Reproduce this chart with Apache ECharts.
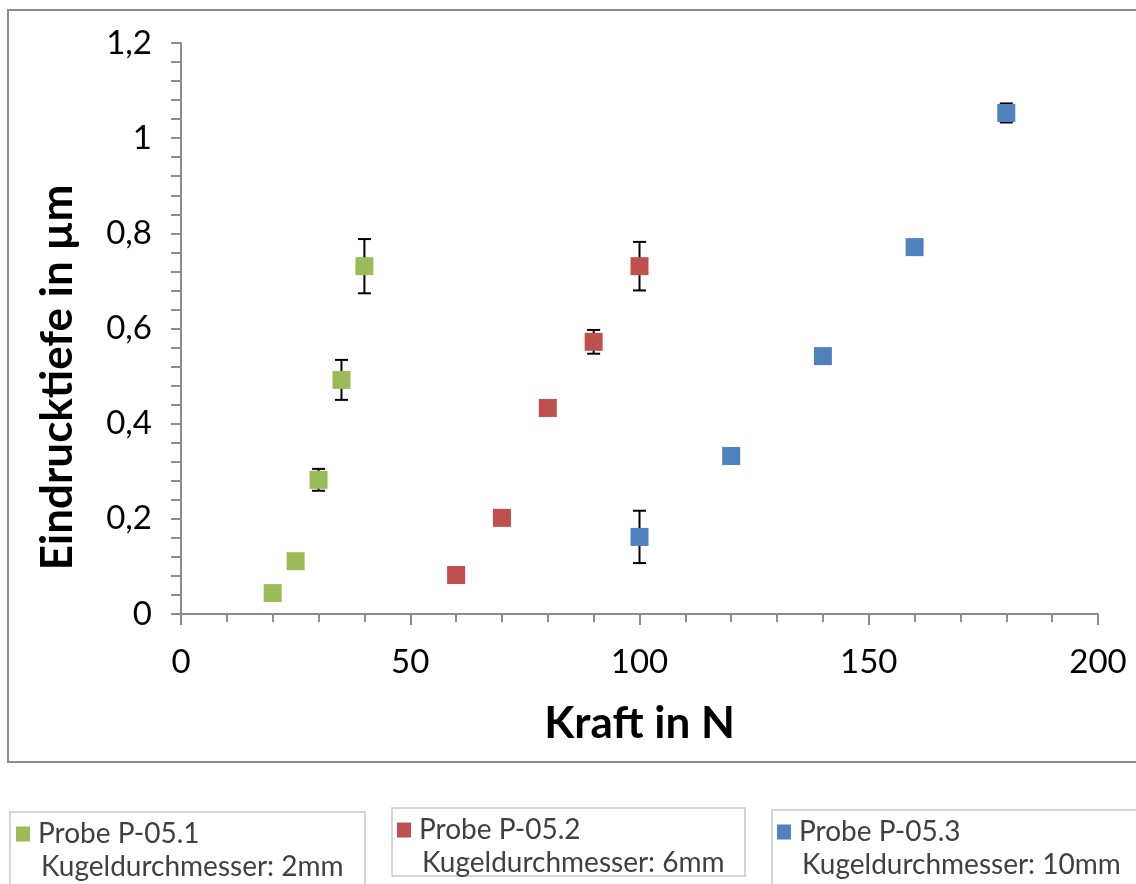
<!DOCTYPE html>
<html>
<head>
<meta charset="utf-8">
<script src="https://cdn.jsdelivr.net/npm/echarts@6/dist/echarts.min.js"></script>
<style>
  html, body { margin: 0; padding: 0; background: #fff; }
  #chart { width: 1136px; height: 884px; }
</style>
</head>
<body>
<div id="chart"></div>
<script>
// Probe P-05.1, Kugel 2mm
const kraft1 = [20, 25, 30, 35, 40]
const tiefe1 = [0.044, 0.111, 0.282, 0.492, 0.731]
const fehler1 = [0, 0, 0.023, 0.042, 0.057]
// Probe P-05.2, Kugel 6mm
const kraft2 = [60, 70, 80, 90, 100]
const tiefe2 = [0.082, 0.202, 0.433, 0.572, 0.731]
const fehler2 = [0, 0, 0, 0.025, 0.051]
// Probe P-05.3, Kugel 10mm
const kraft3 = [100, 120, 140, 160, 180]
const tiefe3 = [0.162, 0.332, 0.542, 0.771, 1.053]
const fehler3 = [0.055, 0, 0, 0, 0.02]

const names = ['Probe P-05.1', 'Probe P-05.2', 'Probe P-05.3']
const durchmesser = ['Kugeldurchmesser: 2mm', 'Kugeldurchmesser: 6mm', 'Kugeldurchmesser: 10mm']
const colors = ['#9BBB59', '#C0504D', '#4F81BD']
const fontName = 'Lato, "Open Sans", sans-serif'

function points(xs, ys) {
  return xs.map((x, i) => [x, ys[i]])
}
function errors(xs, ys, es) {
  let res = []
  xs.forEach((x, i) => {
    if (es[i] > 0) res.push([x, ys[i] - es[i], ys[i] + es[i]])
  })
  return res
}

function renderError(params, api) {
  let x = api.value(0)
  let lo = api.coord([x, api.value(1)])
  let hi = api.coord([x, api.value(2)])
  let half = 6.5
  let style = { stroke: '#000', lineWidth: 2 }
  return {
    type: 'group',
    children: [
      { type: 'line', shape: { x1: lo[0], y1: lo[1], x2: hi[0], y2: hi[1] }, style: style },
      { type: 'line', shape: { x1: lo[0] - half, y1: lo[1], x2: lo[0] + half, y2: lo[1] }, style: style },
      { type: 'line', shape: { x1: hi[0] - half, y1: hi[1], x2: hi[0] + half, y2: hi[1] }, style: style }
    ]
  }
}

const xs = [kraft1, kraft2, kraft3]
const ys = [tiefe1, tiefe2, tiefe3]
const es = [fehler1, fehler2, fehler3]

let series = []
for (let i = 0; i < 3; i++) {
  series.push({
    type: 'custom',
    renderItem: renderError,
    data: errors(xs[i], ys[i], es[i]),
    z: 1,
    silent: true
  })
}
for (let i = 0; i < 3; i++) {
  series.push({
    name: names[i],
    type: 'scatter',
    symbol: 'rect',
    symbolSize: 18,
    itemStyle: { color: colors[i], opacity: 1 },
    data: points(xs[i], ys[i]),
    z: 3
  })
}

const legendLeft = [16, 397, 777]
const legendTop = [820, 816, 818]
const boxes = [
  { x: 10, y: 812, w: 355, h: 90 },
  { x: 392, y: 808, w: 353, h: 68 },
  { x: 772, y: 810, w: 400, h: 90 }
]

let legends = names.map((n, i) => ({
  data: [n],
  left: legendLeft[i],
  top: legendTop[i],
  padding: 0,
  icon: 'rect',
  itemWidth: 14,
  itemHeight: 15,
  textStyle: { fontFamily: fontName, fontSize: 28, color: '#404040', padding: [0, 0, 0, 3] }
}))

let graphics = [
  {
    type: 'rect',
    shape: { x: 8, y: 10, width: 1140, height: 752 },
    style: { fill: 'none', stroke: '#8c8c8c', lineWidth: 2 },
    silent: true
  }
]
boxes.forEach((b, i) => {
  graphics.push({
    type: 'rect',
    shape: { x: b.x, y: b.y, width: b.w, height: b.h },
    style: { fill: 'none', stroke: '#c8c8c8', lineWidth: 1.5 },
    silent: true
  })
  graphics.push({
    type: 'text',
    left: legendLeft[i] + 25,
    top: legendTop[i] + 33,
    style: { text: durchmesser[i], fontFamily: fontName, fontSize: 28, fill: '#404040' },
    silent: true
  })
})

const axisGrey = '#8c8c8c'

const option = {
  backgroundColor: '#fff',
  animation: false,
  textStyle: { fontFamily: fontName },
  grid: { left: 181, right: 38, top: 43, bottom: 270 },
  legend: legends,
  graphic: graphics,
  xAxis: {
    type: 'value',
    min: 0,
    max: 200,
    interval: 50,
    name: 'Kraft in N',
    nameLocation: 'middle',
    nameGap: 88,
    nameTextStyle: { fontSize: 44, fontWeight: 'bold', color: '#000', fontFamily: fontName },
    axisLine: { show: true, onZero: false, lineStyle: { color: axisGrey, width: 2 } },
    axisTick: { show: true, length: 11, lineStyle: { color: axisGrey, width: 2 } },
    minorTick: { show: true, splitNumber: 5, length: 8, lineStyle: { color: axisGrey, width: 2 } },
    splitLine: { show: false },
    axisLabel: { fontSize: 33, color: '#000', margin: 32, fontFamily: fontName }
  },
  yAxis: {
    type: 'value',
    min: 0,
    max: 1.2,
    interval: 0.2,
    name: 'Eindrucktiefe in µm',
    nameLocation: 'middle',
    nameGap: 101,
    nameTextStyle: {
      fontSize: 44,
      fontWeight: 'bold',
      color: '#000',
      fontFamily: fontName,
      padding: [0, 98, 0, 0]
    },
    axisLine: { show: true, lineStyle: { color: axisGrey, width: 2 } },
    axisTick: { show: true, length: 10, lineStyle: { color: axisGrey, width: 2 } },
    minorTick: { show: true, splitNumber: 5, length: 10, lineStyle: { color: axisGrey, width: 2 } },
    splitLine: { show: false },
    axisLabel: {
      fontSize: 33,
      color: '#000',
      margin: 29,
      fontFamily: fontName,
      formatter: function (v) {
        return String(Math.round(v * 10) / 10).replace('.', ',')
      }
    }
  },
  series: series
}

const myChart = echarts.init(document.getElementById('chart'))
myChart.setOption(option)
</script>
</body>
</html>
